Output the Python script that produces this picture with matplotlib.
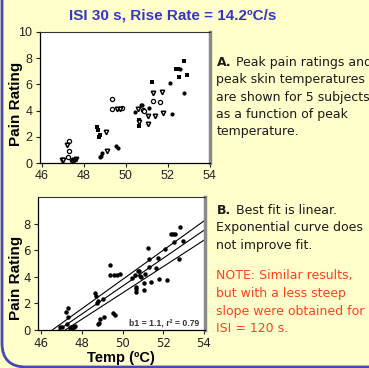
import matplotlib
matplotlib.use('Agg')
import matplotlib.pyplot as plt
import numpy as np
from matplotlib.patches import FancyBboxPatch

# ---------------- data ----------------
sq_x = [48.65, 48.70, 48.75, 48.78, 50.65, 50.65, 51.25, 52.40, 52.48, 52.55, 52.80, 52.95]
sq_y = [2.75, 2.55, 2.00, 2.15, 3.25, 2.85, 6.20, 7.20, 7.20, 6.60, 7.75, 6.70]

oc_x = [47.30, 47.30, 47.28, 47.45, 49.37, 49.37, 49.85, 50.85, 51.32, 51.63, 50.90]
oc_y = [1.65, 0.95, 0.45, 0.20, 4.85, 4.15, 4.20, 4.05, 4.70, 4.65, 3.95]

ot_x = [46.95, 47.02, 47.20, 47.55, 47.65, 49.05, 49.10, 49.58, 49.72, 50.60, 50.65,
        51.05, 51.05, 51.30, 51.40, 51.73, 51.78]
ot_y = [0.20, 0.20, 1.35, 0.25, 0.30, 2.35, 0.95, 4.15, 4.15, 4.15, 3.10,
        3.00, 3.55, 5.35, 3.60, 5.45, 3.85]

fc_x = [48.80, 48.85, 48.88, 49.55, 49.62, 50.45, 50.75, 50.80, 51.10, 52.10, 52.20, 52.60, 52.78]
fc_y = [0.45, 0.50, 0.80, 1.30, 1.15, 3.90, 4.45, 4.45, 4.20, 6.10, 3.75, 7.20, 5.35]

ft_x = [47.40, 47.50, 47.60]
ft_y = [0.15, 0.20, 0.25]

# regression line and confidence bands: value at x=54 and slope
fit_at54 = [8.20, 7.50, 6.75]
fit_slope = [1.10, 1.05, 0.99]

x_ticks = [46, 48, 50, 52, 54]
y_ticks_top = [0, 2, 4, 6, 8, 10]
y_ticks_bot = [0, 2, 4, 6, 8]

title = 'ISI 30 s, Rise Rate = 14.2ºC/s'
annot = 'b1 = 1.1, r² = 0.79'
text_a = ['Peak pain ratings and', 'peak skin temperatures', 'are shown for 5 subjects',
          'as a function of peak', 'temperature.']
text_b = ['Best fit is linear.', 'Exponential curve does', 'not improve fit.']
text_note = ['NOTE: Similar results,', 'but with a less steep', 'slope were obtained for',
             'ISI = 120 s.']

# ---------------- figure ----------------
W, H = 369, 368
fig = plt.figure(figsize=(W / 100, H / 100), dpi=100, facecolor='#FFFFCC')


def fx(px):
    return px / W


def fy(py):
    return 1 - py / H


# border
border = FancyBboxPatch((fx(2), fy(367)), 1.3, 1.3,
                        boxstyle='round,pad=0,rounding_size=0.065',
                        transform=fig.transFigure, facecolor='none',
                        edgecolor='#4848B0', lw=2.0, clip_on=False)
fig.patches.append(border)


def style_axes(ax, family, size):
    ax.set_facecolor('white')
    for s in ['left', 'bottom']:
        ax.spines[s].set_color('black')
        ax.spines[s].set_linewidth(0.9)
    ax.spines['top'].set_color('#333333')
    ax.spines['top'].set_linewidth(0.8)
    ax.spines['right'].set_color('#8a8a8a')
    ax.spines['right'].set_linewidth(2.5)
    ax.tick_params(direction='out', length=3, width=0.8, pad=2,
                   labelsize=size, colors='#222222', top=False, right=False)
    for lab in ax.get_xticklabels() + ax.get_yticklabels():
        lab.set_family(family)


# top axes
ax1 = fig.add_axes([fx(39.5), fy(163), (209.5 - 39.5) / W, (163 - 32) / H])
ms = 3.0
ax1.plot(sq_x, sq_y, 's', color='black', ms=ms * 0.95, mew=0, linestyle='none')
ax1.plot(oc_x, oc_y, 'o', mfc='white', mec='black', ms=ms, mew=0.9, linestyle='none')
ax1.plot(ot_x, ot_y, 'v', mfc='white', mec='black', ms=ms + 0.2, mew=1.1, linestyle='none')
ax1.plot(fc_x, fc_y, 'o', color='black', ms=ms, mew=0, linestyle='none')
ax1.plot(ft_x, ft_y, 'v', color='black', ms=ms + 0.5, mew=0, linestyle='none')
ax1.set_xlim(45.9, 54.0)
ax1.set_ylim(0, 10)
ax1.set_xticks(x_ticks)
ax1.set_yticks(y_ticks_top)
style_axes(ax1, 'Liberation Sans', 9)
ax1.set_ylabel('Pain Rating', fontsize=11, weight='bold', family='Liberation Sans')
ax1.yaxis.set_label_coords(-0.097, 0.45)

# bottom axes
ax2 = fig.add_axes([fx(37.5), fy(330), (205 - 37.5) / W, (330 - 197) / H])
all_x = np.concatenate([sq_x, oc_x, ot_x, fc_x, ft_x])
all_y = np.concatenate([sq_y, oc_y, ot_y, fc_y, ft_y])
ax2.plot(all_x, all_y, 'o', color='black', ms=3.2, mew=0, linestyle='none', zorder=3)
xx = np.array([45.0, 55.0])
for v54, sl in zip(fit_at54, fit_slope):
    ax2.plot(xx, v54 + sl * (xx - 54), color='black', lw=0.8, zorder=2)
ax2.set_xlim(45.82, 54.05)
ax2.set_ylim(0, 10)
ax2.set_xticks(x_ticks)
ax2.set_yticks(y_ticks_bot)
style_axes(ax2, 'DejaVu Sans', 8.5)
ax2.set_ylabel('Pain Rating', fontsize=11, weight='bold', family='Liberation Sans')
ax2.yaxis.set_label_coords(-0.087, 0.39)
ax2.set_xlabel('Temp (ºC)', fontsize=10.5, weight='bold', family='Liberation Sans',
               labelpad=1)
ax2.text(0.965, 0.055, annot, transform=ax2.transAxes, ha='right', va='center',
         fontsize=6.2, weight='bold', family='Liberation Sans', color='#333333', zorder=4)

# title
fig.text(fx(173), fy(15), title, ha='center', va='center', color='#3535C8',
         weight='bold', family='Liberation Sans', fontsize=11)

# right-hand text
fs = 9.0
tcol = '#1a1a1a'
red = '#FF4020'
line_y_a = [62.7, 80.0, 97.3, 114.7, 132.0]
fig.text(fx(216.5), fy(line_y_a[0]), 'A.', ha='left', va='center', fontsize=fs,
         weight='bold', family='DejaVu Sans', color=tcol)
for i, s in enumerate(text_a):
    x0 = 236 if i == 0 else 216.5
    fig.text(fx(x0), fy(line_y_a[i]), s, ha='left', va='center', fontsize=fs,
             family='DejaVu Sans', color=tcol)

line_y_b = [210.0, 228.0, 246.0]
fig.text(fx(216.5), fy(line_y_b[0]), 'B.', ha='left', va='center', fontsize=fs,
         weight='bold', family='DejaVu Sans', color=tcol)
for i, s in enumerate(text_b):
    x0 = 236 if i == 0 else 216.5
    fig.text(fx(x0), fy(line_y_b[i]), s, ha='left', va='center', fontsize=fs,
             family='DejaVu Sans', color=tcol)

line_y_n = [276.0, 293.5, 311.0, 328.5]
for i, s in enumerate(text_note):
    fig.text(fx(216.5), fy(line_y_n[i]), s, ha='left', va='center', fontsize=fs,
             family='DejaVu Sans', color=red)

fig.savefig('out.png', dpi=100, facecolor=fig.get_facecolor())
